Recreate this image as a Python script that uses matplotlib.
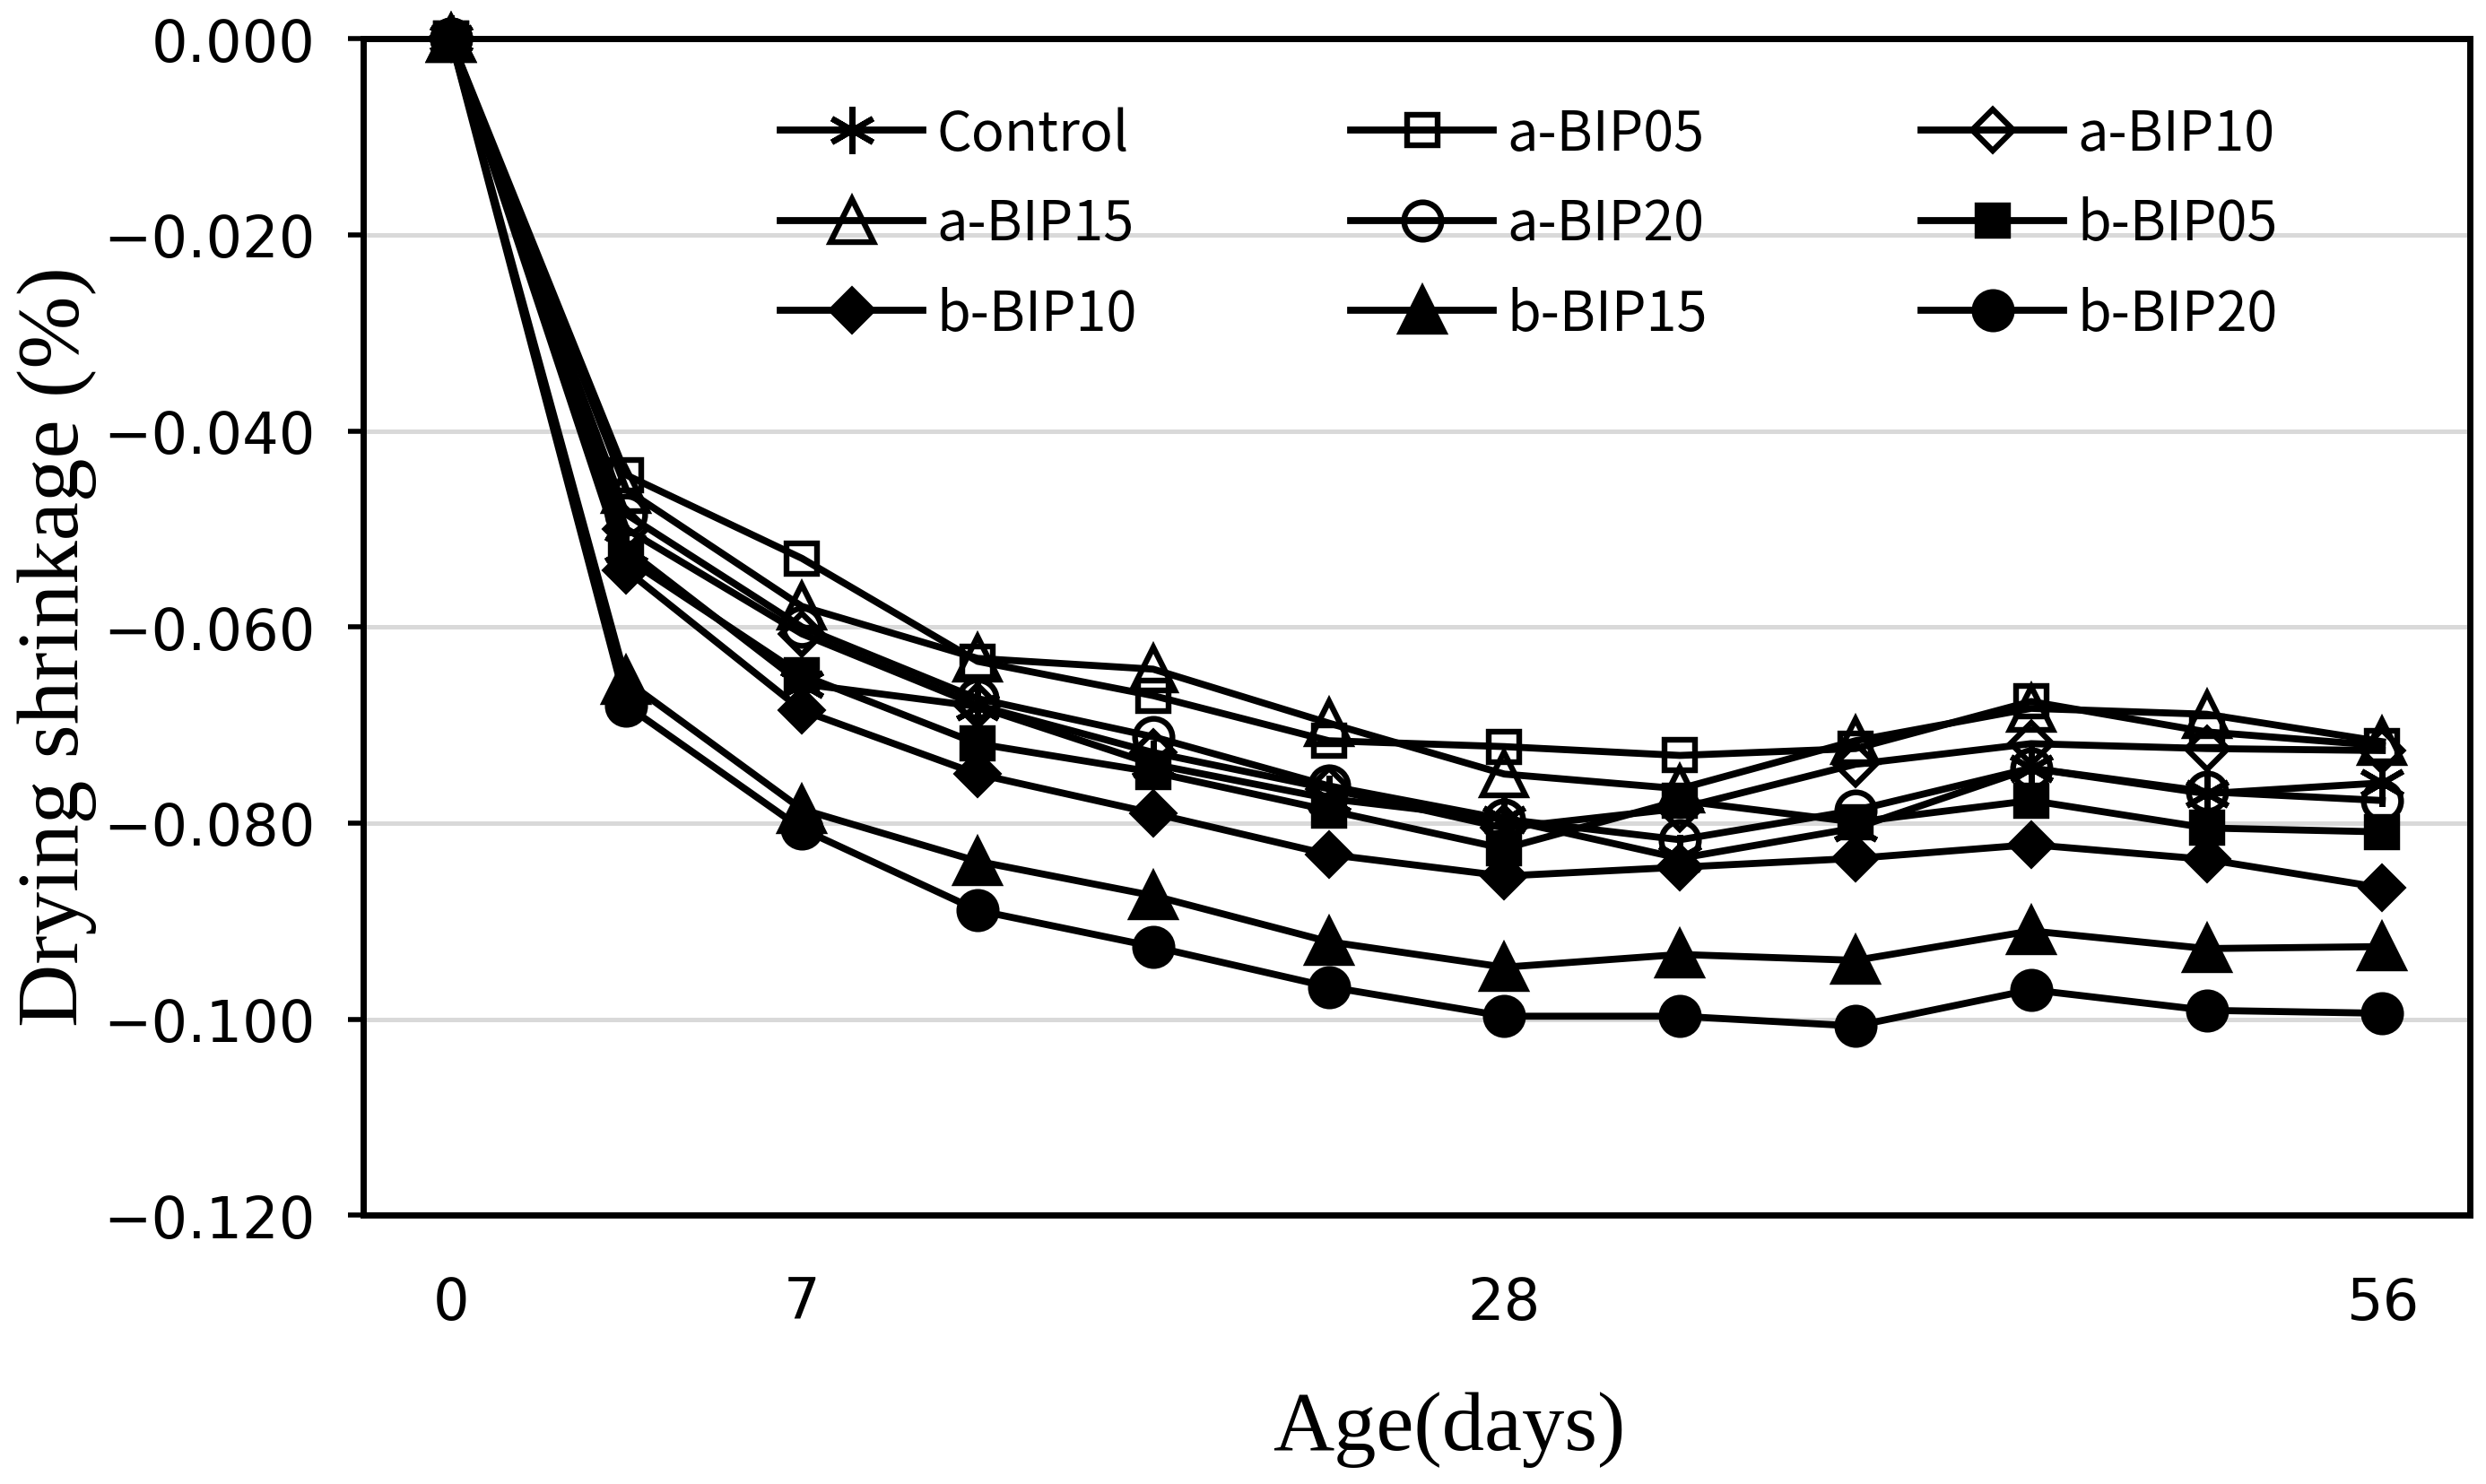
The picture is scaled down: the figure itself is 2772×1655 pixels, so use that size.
import numpy as np
import matplotlib
matplotlib.use('Agg')
import matplotlib.pyplot as plt
from matplotlib.ticker import FuncFormatter

# category axis: only some ages are labelled in the original chart
age_labels = ['0', '', '7', '', '', '', '28', '', '', '', '', '56']

# drying shrinkage (%)
control = [0.0, -0.0520, -0.0658, -0.0681, -0.0740, -0.0775, -0.0796, -0.0836, -0.0805, -0.0744, -0.0770, -0.0759]
a_bip05 = [0.0, -0.0445, -0.0530, -0.0635, -0.0670, -0.0716, -0.0722, -0.0731, -0.0724, -0.0676, -0.0707, -0.0721]
a_bip10 = [0.0, -0.0500, -0.0607, -0.0680, -0.0728, -0.0765, -0.0805, -0.0785, -0.0740, -0.0719, -0.0724, -0.0726]
a_bip15 = [0.0, -0.0460, -0.0579, -0.0632, -0.0643, -0.0698, -0.0750, -0.0765, -0.0716, -0.0683, -0.0689, -0.0717]
a_bip20 = [0.0, -0.0485, -0.0600, -0.0673, -0.0712, -0.0762, -0.0796, -0.0817, -0.0787, -0.0744, -0.0768, -0.0777]
b_bip05 = [0.0, -0.0530, -0.0649, -0.0719, -0.0748, -0.0787, -0.0826, -0.0777, -0.0799, -0.0777, -0.0805, -0.0809]
b_bip10 = [0.0, -0.0542, -0.0685, -0.0750, -0.0790, -0.0832, -0.0854, -0.0845, -0.0836, -0.0822, -0.0837, -0.0866]
b_bip15 = [0.0, -0.0655, -0.0786, -0.0839, -0.0874, -0.0921, -0.0947, -0.0934, -0.0940, -0.0910, -0.0928, -0.0926]
b_bip20 = [0.0, -0.0680, -0.0806, -0.0889, -0.0926, -0.0967, -0.0997, -0.0997, -0.1007, -0.0970, -0.0991, -0.0994]

series_names = ['Control', 'a-BIP05', 'a-BIP10', 'a-BIP15', 'a-BIP20',
                'b-BIP05', 'b-BIP10', 'b-BIP15', 'b-BIP20']
series_values = [control, a_bip05, a_bip10, a_bip15, a_bip20,
                 b_bip05, b_bip10, b_bip15, b_bip20]

# marker style per series: (marker, size, filled)
styles = {
    'Control': ((6, 2, 0), 19, True),
    'a-BIP05': ('s', 12.5, False),
    'a-BIP10': ('D', 11.5, False),
    'a-BIP15': ('^', 17, False),
    'a-BIP20': ('o', 15, False),
    'b-BIP05': ('s', 12.5, True),
    'b-BIP10': ('D', 11.5, True),
    'b-BIP15': ('^', 17, True),
    'b-BIP20': ('o', 15, True),
}

fig = plt.figure(figsize=(13.86, 8.28), dpi=200)
ax = fig.add_axes([0.146, 0.181, 0.8476, 0.7923])

x = np.arange(len(age_labels))
handles = []
for name, vals in zip(series_names, series_values):
    marker, ms, filled = styles[name]
    h, = ax.plot(x, vals, color='black', lw=2.8, marker=marker, markersize=ms,
                 markeredgewidth=2.3, markeredgecolor='black',
                 markerfacecolor='black' if filled else 'none',
                 label=name, clip_on=False, zorder=3)
    handles.append(h)

ax.set_xlim(-0.5, len(age_labels) - 0.5)
ax.set_ylim(-0.12, 0.0)
ax.set_yticks(np.arange(-0.12, 0.001, 0.02))
ax.yaxis.set_major_formatter(FuncFormatter(
    lambda v, p: '0.000' if abs(v) < 1e-9 else f'{v:.3f}'.replace('-', '\u2212')))
ax.set_xticks(x)
ax.set_xticklabels(age_labels)

ax.grid(axis='y', color='#d9d9d9', lw=1.8, zorder=0)
ax.set_axisbelow(True)
for s in ax.spines.values():
    s.set_linewidth(2.5)
    s.set_color('black')

ax.tick_params(axis='y', direction='out', length=6, width=2, pad=13,
               labelsize=23, labelfontfamily='DejaVu Sans')
ax.tick_params(axis='x', length=0, pad=24, labelsize=23,
               labelfontfamily='DejaVu Sans')

fig.text(0.583, 0.037, 'Age(days)', ha='center', va='center',
         fontsize=34, family='Liberation Serif')
fig.text(0.023, 0.5646, 'Drying shrinkage (%)', ha='center', va='center',
         rotation=90, fontsize=35, family='Liberation Serif')

# Excel fills legend rows first, matplotlib columns first
order = [0, 3, 6, 1, 4, 7, 2, 5, 8]
ax.legend([handles[i] for i in order], [series_names[i] for i in order],
          ncol=3, frameon=False, loc='upper left',
          bbox_to_anchor=(0.314, 0.928), bbox_transform=fig.transFigure,
          handlelength=2.6, handletextpad=0.25, columnspacing=3.9,
          labelspacing=0.62, borderpad=0, borderaxespad=0,
          prop={'family': ['Noto Sans CJK KR', 'DejaVu Sans'], 'size': 22})

fig.savefig('out.png', dpi=200)
